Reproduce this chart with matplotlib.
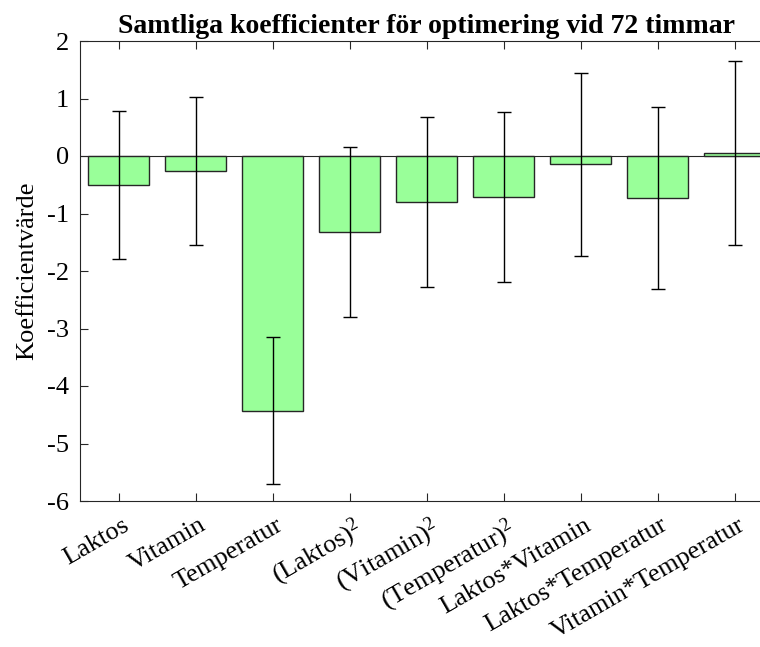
import matplotlib
matplotlib.use("Agg")
import matplotlib.pyplot as plt
import matplotlib.transforms as mtransforms
import numpy as np

plt.rcParams["font.family"] = ["Liberation Serif", "DejaVu Serif"]
plt.rcParams["mathtext.fontset"] = "custom"
plt.rcParams["mathtext.rm"] = "Liberation Serif"
plt.rcParams["mathtext.it"] = "Liberation Serif:italic"
plt.rcParams["axes.unicode_minus"] = False

labels = ["Laktos", "Vitamin", "Temperatur",
          "(Laktos)$^{2}$", "(Vitamin)$^{2}$", "(Temperatur)$^{2}$",
          "Laktos*Vitamin", "Laktos*Temperatur", "Vitamin*Temperatur"]
coef = [-0.50, -0.255, -4.43, -1.325, -0.795, -0.71, -0.145, -0.73, 0.055]
err = [1.29, 1.285, 1.28, 1.475, 1.475, 1.48, 1.595, 1.58, 1.595]

fig = plt.figure(figsize=(7.6, 6.47), dpi=100)
ax = fig.add_axes([80 / 760, 1 - 501 / 647, 693 / 760, 460 / 647])

x = np.arange(1, len(coef) + 1)
ax.bar(x, coef, width=0.8, color="#99ff99", edgecolor="#262626", linewidth=1.0, zorder=2)
ax.axhline(0, color="#262626", linewidth=0.8, zorder=1)
ax.errorbar(x, coef, yerr=err, fmt="none", ecolor="black", elinewidth=1.0,
            capsize=5, capthick=1.0, zorder=3)

ax.set_xlim(0.5, 9.5)
ax.set_ylim(-6, 2)
ax.set_yticks(range(-6, 3))
ax.set_xticks(x)
ax.set_xticklabels(labels, rotation=30, ha="right", rotation_mode="anchor", fontsize=19)
ax.tick_params(axis="y", labelsize=19)
ax.tick_params(direction="in", top=True, right=True, length=6, width=0.8, color="#262626", pad=8)
shift = mtransforms.ScaledTranslation(3 / 100, -2 / 100, fig.dpi_scale_trans)
for lab in ax.get_xticklabels():
    lab.set_transform(lab.get_transform() + shift)
for s in ax.spines.values():
    s.set_color("#262626")
    s.set_linewidth(0.8)

ax.set_ylabel("Koefficientvärde", fontsize=19, labelpad=6)
ax.set_title("Samtliga koefficienter för optimering vid 72 timmar", fontsize=20, fontweight="bold", pad=6)

fig.savefig("out.png", dpi=100)
